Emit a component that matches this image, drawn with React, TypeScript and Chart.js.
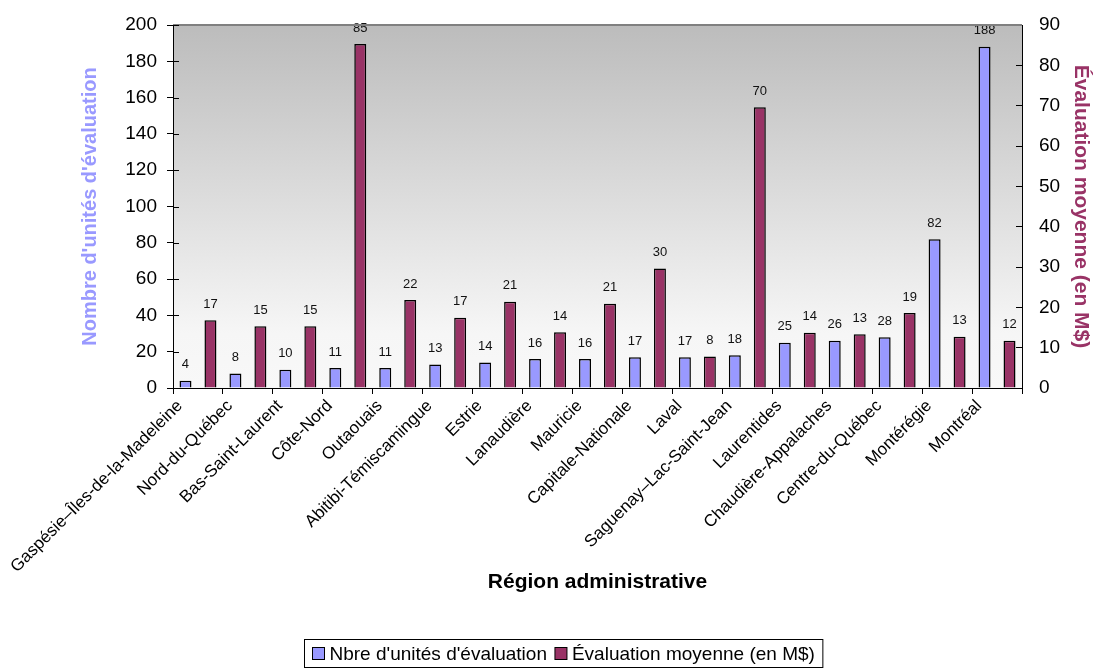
import React, { useEffect, useRef } from "react";
import { Chart, registerables } from "chart.js";

Chart.register(...registerables);

const FONT = "'Liberation Sans', Arial, Helvetica, sans-serif";

const regions = [
  "Gaspésie–Îles-de-la-Madeleine",
  "Nord-du-Québec",
  "Bas-Saint-Laurent",
  "Côte-Nord",
  "Outaouais",
  "Abitibi-Témiscamingue",
  "Estrie",
  "Lanaudière",
  "Mauricie",
  "Capitale-Nationale",
  "Laval",
  "Saguenay–Lac-Saint-Jean",
  "Laurentides",
  "Chaudière-Appalaches",
  "Centre-du-Québec",
  "Montérégie",
  "Montréal",
];

const unitCounts = [4, 8, 10, 11, 11, 13, 14, 16, 16, 17, 17, 18, 25, 26, 28, 82, 188];

const avgValues = [16.8, 15.3, 15.3, 85.3, 21.8, 17.4, 21.4, 13.8, 20.9, 29.6, 7.8, 69.6, 13.7, 13.3, 18.6, 12.7, 11.7];

const seriesNames = ["Nbre d'unités d'évaluation", "Évaluation moyenne (en M$)"];
const seriesColors = ["#9999FF", "#993366"];

const xTitle = "Région administrative";
const leftTitle = "Nombre d'unités d'évaluation";
const rightTitle = "Évaluation moyenne (en M$)";

const bgPlugin = {
  id: "bgGradient",
  beforeDraw(chart: any) {
    const { ctx, chartArea } = chart;
    if (!chartArea) return;
    const { left, top, right, bottom } = chartArea;
    const g = ctx.createLinearGradient(0, top, 0, bottom);
    g.addColorStop(0, "#bcbcbc");
    g.addColorStop(0.85, "#f6f6f6");
    g.addColorStop(1, "#f8f8f8");
    ctx.save();
    ctx.fillStyle = g;
    ctx.fillRect(left, top, right - left, bottom - top);
    ctx.restore();
  },
  afterDraw(chart: any) {
    const { ctx, chartArea } = chart;
    const { left, top, right } = chartArea;
    ctx.save();
    ctx.strokeStyle = "#808080";
    ctx.lineWidth = 2;
    ctx.beginPath();
    ctx.moveTo(left, top);
    ctx.lineTo(right, top);
    ctx.stroke();
    // inward half of the crossing ticks on the left axis
    const ys = chart.scales.y;
    ctx.strokeStyle = "#000";
    ctx.lineWidth = 1;
    ys.ticks.forEach((_t: any, i: number) => {
      const py = Math.round(ys.getPixelForTick(i)) + 0.5;
      ctx.beginPath();
      ctx.moveTo(left, py);
      ctx.lineTo(left + 6, py);
      ctx.stroke();
    });
    ctx.restore();
  },
};

const labelPlugin = {
  id: "barLabels",
  afterDatasetsDraw(chart: any) {
    const { ctx } = chart;
    ctx.save();
    ctx.font = `13px ${FONT}`;
    ctx.fillStyle = "#111";
    ctx.textAlign = "center";
    ctx.textBaseline = "middle";
    chart.data.datasets.forEach((ds: any, di: number) => {
      const meta = chart.getDatasetMeta(di);
      meta.data.forEach((bar: any, i: number) => {
        const v = Math.round(ds.data[i]);
        ctx.fillText(String(v), bar.x, bar.y - 16);
      });
    });
    ctx.restore();
  },
};

const legendPlugin = {
  id: "boxLegend",
  afterDraw(chart: any) {
    const { ctx, width, height } = chart;
    ctx.save();
    ctx.font = `19px ${FONT}`;
    const box = 12;
    const gap1 = 5;
    const gap2 = 8;
    const padX = 8;
    const widths = seriesNames.map((n) => ctx.measureText(n).width);
    let total = padX * 2;
    widths.forEach((w, i) => {
      total += box + gap1 + w + (i < widths.length - 1 ? gap2 : 0);
    });
    const cx = width / 2 + 17;
    const bx = Math.round(cx - total / 2) + 0.5;
    const by = height - 29.5;
    const bh = 28;
    ctx.strokeStyle = "#000";
    ctx.lineWidth = 1;
    ctx.strokeRect(bx, by, total, bh);
    let x = bx + padX;
    const cy = by + bh / 2;
    widths.forEach((w, i) => {
      ctx.fillStyle = seriesColors[i];
      ctx.fillRect(x, cy - box / 2, box, box);
      ctx.strokeRect(x, cy - box / 2, box, box);
      x += box + gap1;
      ctx.fillStyle = "#000";
      ctx.textBaseline = "middle";
      ctx.textAlign = "left";
      ctx.fillText(seriesNames[i], x, cy + 1);
      x += w + gap2;
    });
    ctx.restore();
  },
};

export default function App() {
  const ref = useRef<HTMLCanvasElement | null>(null);

  useEffect(() => {
    if (!ref.current) return;
    Chart.defaults.font.family = FONT;
    const chart = new Chart(ref.current, {
      type: "bar",
      data: {
        labels: regions,
        datasets: [
          {
            label: seriesNames[0],
            data: unitCounts,
            yAxisID: "y",
            backgroundColor: seriesColors[0],
            borderColor: "#000",
            borderWidth: 1.5,
            categoryPercentage: 1.0,
            barPercentage: 0.48,
          },
          {
            label: seriesNames[1],
            data: avgValues,
            yAxisID: "y1",
            backgroundColor: seriesColors[1],
            borderColor: "#000",
            borderWidth: 1.5,
            categoryPercentage: 1.0,
            barPercentage: 0.48,
          },
        ],
      },
      options: {
        animation: false,
        responsive: true,
        maintainAspectRatio: false,
        layout: { padding: { top: 25, left: 0, right: 0, bottom: 0 } },
        plugins: {
          legend: { display: false },
          tooltip: { enabled: false },
        },
        scales: {
          x: {
            offset: true,
            grid: { offset: true, drawOnChartArea: false, tickLength: 6, color: "#000" },
            border: { color: "#000", width: 1 },
            ticks: {
              autoSkip: false,
              minRotation: 45,
              maxRotation: 45,
              color: "#000",
              font: { size: 17, family: FONT },
              labelOffset: -18,
              padding: 2,
            },
            title: {
              display: true,
              text: xTitle,
              color: "#000",
              font: { size: 21, weight: "bold", family: FONT },
              padding: { top: 0, bottom: 74 },
            },
            afterFit: (s: any) => {
              s.height = 281;
            },
          },
          y: {
            position: "left",
            min: 0,
            max: 200,
            ticks: { stepSize: 20, color: "#000", font: { size: 19, family: FONT }, padding: 10 },
            grid: { drawOnChartArea: false, tickLength: 6, color: "#000" },
            border: { color: "#000", width: 1 },
            title: {
              display: true,
              text: leftTitle,
              color: "#9999FF",
              font: { size: 20, weight: "bold", family: FONT },
              padding: { top: 78, bottom: 0 },
            },
            afterFit: (s: any) => {
              s.width = 173;
              s.paddingTop = 0;
              s.paddingBottom = 0;
            },
          },
          y1: {
            position: "right",
            min: 0,
            max: 90,
            ticks: { stepSize: 10, color: "#000", font: { size: 19, family: FONT }, padding: 23 },
            grid: { drawOnChartArea: false, tickLength: -6, color: "#000" },
            border: { color: "#000", width: 1 },
            title: {
              display: true,
              text: rightTitle,
              color: "#993366",
              font: { size: 21, weight: "bold", family: FONT },
              padding: { top: 0, bottom: 0 },
            },
            afterFit: (s: any) => {
              s.width = 71;
              s.paddingTop = 0;
              s.paddingBottom = 0;
            },
          },
        },
      },
      plugins: [bgPlugin, labelPlugin, legendPlugin],
    } as any);
    return () => chart.destroy();
  }, []);

  return (
    <div style={{ position: "fixed", left: 0, top: 0, width: 1093, height: 669, background: "#fff" }}>
      <canvas ref={ref} />
    </div>
  );
}
